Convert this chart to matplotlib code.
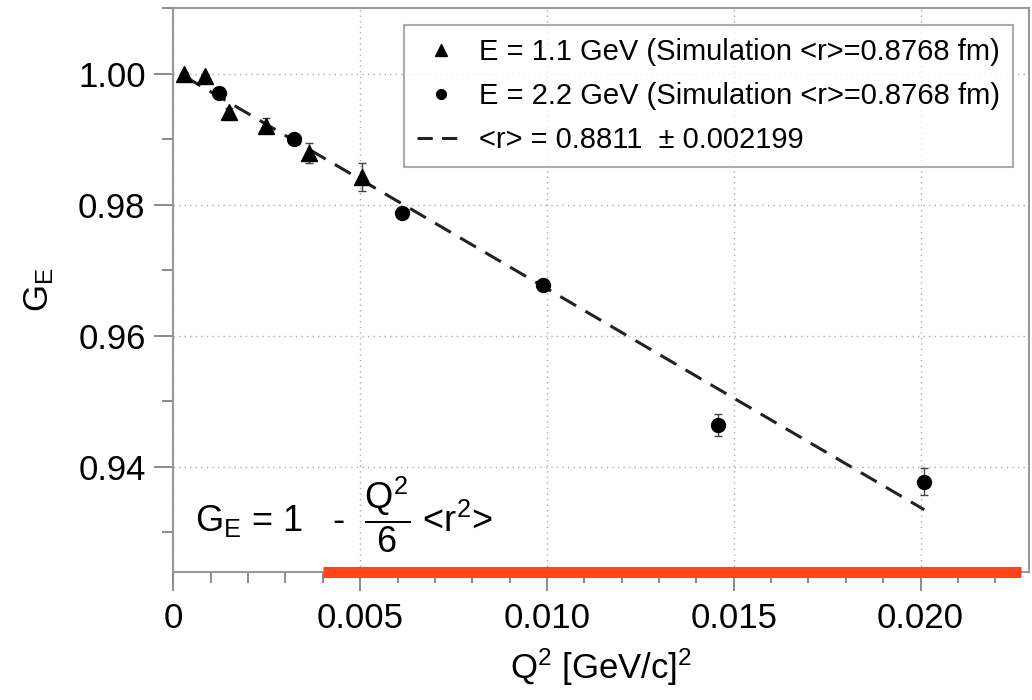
import numpy as np
import matplotlib
matplotlib.use("Agg")
import matplotlib.pyplot as plt
from matplotlib.lines import Line2D
from matplotlib.ticker import MultipleLocator, FormatStrFormatter

plt.rcParams['font.family'] = ['Liberation Sans', 'DejaVu Sans']
plt.rcParams['mathtext.fontset'] = 'custom'
plt.rcParams['mathtext.rm'] = 'Liberation Sans'
plt.rcParams['mathtext.it'] = 'Liberation Sans'
plt.rcParams['mathtext.bf'] = 'Liberation Sans:bold'

# E = 1.1 GeV (triangles)
q2_low = [0.00028, 0.00084, 0.0015, 0.00248, 0.00363, 0.00504]
ge_low = [1.0000, 0.9996, 0.9942, 0.9921, 0.9879, 0.9842]
err_low = [0.0003, 0.0003, 0.0005, 0.0011, 0.0016, 0.0021]

# E = 2.2 GeV (circles)
q2_high = [0.00122, 0.00323, 0.00613, 0.00990, 0.01457, 0.02009]
ge_high = [0.9971, 0.9901, 0.9788, 0.9678, 0.9463, 0.9377]
err_high = [0.0003, 0.0004, 0.0004, 0.0008, 0.0017, 0.0020]

# fitted line endpoints
fit_x = [0.0003, 0.0201]
fit_y = [0.9996, 0.9334]

# highlight bar under the plot
mark_x = [0.0040, 0.0227]

label_low = "E = 1.1 GeV (Simulation <r>=0.8768 fm)"
label_high = "E = 2.2 GeV (Simulation <r>=0.8768 fm)"
label_fit = "<r> = 0.8811  \u00b1 0.002199"

fig = plt.figure(figsize=(10.32, 7.0), dpi=100)
ax = fig.add_axes([0.168, 0.183, 0.829, 0.806])

ax.errorbar(q2_low, ge_low, yerr=err_low, fmt='^', color='black', ms=11,
            ecolor='#444444', elinewidth=1, capsize=3, zorder=3)
ax.errorbar(q2_high, ge_high, yerr=err_high, fmt='o', color='black', ms=10,
            ecolor='#444444', elinewidth=1, capsize=3, zorder=3)
ax.plot(fit_x, fit_y, color='#222222', lw=2.2, dashes=(6, 3.5), zorder=2)

ax.set_xlim(0, 0.0229)
ax.set_ylim(0.9239, 1.0101)
ax.xaxis.set_major_locator(MultipleLocator(0.005))
ax.xaxis.set_minor_locator(MultipleLocator(0.001))
ax.yaxis.set_major_locator(MultipleLocator(0.02))
ax.yaxis.set_minor_locator(MultipleLocator(0.01))
ax.yaxis.set_major_formatter(FormatStrFormatter('%.2f'))
xt = np.arange(0, 0.021, 0.005)
ax.set_xticks(xt)
ax.set_xticklabels(['0' if abs(v) < 1e-9 else '%.3f' % v for v in xt])
ax.set_xlim(0, 0.0229)

ax.grid(True, which='major', color='#aaaaaa', linestyle=(0, (1, 3)), lw=1)
for s in ax.spines.values():
    s.set_color('#999999')
    s.set_linewidth(1.5)
ax.tick_params(which='major', length=14, width=1.2, color='#777777', labelsize=25,
               direction='out', pad=6)
ax.tick_params(which='minor', length=8, width=1.2, color='#777777', direction='out')
ax.tick_params(axis='x', pad=8)

ax.set_xlabel(r'Q$^2$ [GeV/c]$^2$', fontsize=25, labelpad=8)
ax.set_ylabel(r'G$_\mathrm{E}$', fontsize=25, labelpad=16)

ax.text(0.025, 0.03, r'G$_\mathrm{E}$ = 1   -  $\dfrac{\mathrm{Q}^2}{6}$ <r$^2$>',
        transform=ax.transAxes, fontsize=26, ha='left', va='bottom')

ax.plot(mark_x, [0.9239, 0.9239], color='#ff4517', lw=8, solid_capstyle='butt',
        clip_on=False, zorder=5)

handles = [
    Line2D([], [], marker='^', color='black', ls='none', ms=9),
    Line2D([], [], marker='o', color='black', ls='none', ms=7),
    Line2D([], [], color='#222222', lw=2.2, dashes=(5, 3)),
]
leg = ax.legend(handles, [label_low, label_high, label_fit], loc='upper right',
                bbox_to_anchor=(0.981, 0.970), fontsize=21,
                frameon=True, fancybox=False, edgecolor='#999999', handlelength=1.6,
                handletextpad=0.5, borderpad=0.45, labelspacing=0.55, borderaxespad=0)
leg.get_frame().set_linewidth(1.5)

fig.savefig('out.png', dpi=100)
